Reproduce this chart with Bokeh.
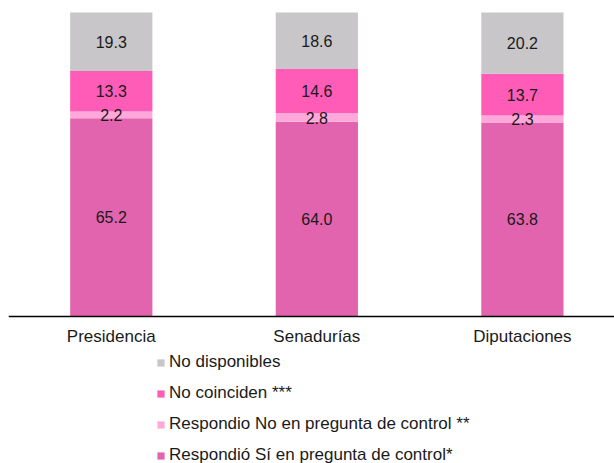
from bokeh.plotting import figure
from bokeh.models import ColumnDataSource, Range1d, FixedTicker, Legend, LegendItem, LinearAxis
from bokeh.core.properties import value
from bokeh.embed import file_html
from bokeh.resources import INLINE

categories = ["Presidencia", "Senadurías", "Diputaciones"]
resp_si = [65.2, 64.0, 63.8]
resp_no = [2.2, 2.8, 2.3]
no_coinciden = [13.3, 14.6, 13.7]
no_disponibles = [19.3, 18.6, 20.2]

series_keys = ["si", "no", "coinc", "disp"]
series_names = ["Respondió Sí en pregunta de control*",
                "Respondio No en pregunta de control **",
                "No coinciden ***",
                "No disponibles"]
colors = ["#E264AE", "#FFA8D9", "#FF5CB8", "#C8C6C8"]

FONT = "Liberation Sans"
x = list(range(len(categories)))
data = {"x": x, "si": resp_si, "no": resp_no, "coinc": no_coinciden, "disp": no_disponibles}
src = ColumnDataSource(data)

p = figure(width=614, height=463, output_backend="svg", toolbar_location=None,
           x_range=Range1d(-0.5, 2.448), y_range=Range1d(-48.5, 103.95),
           min_border_left=8, min_border_right=0, min_border_top=0, min_border_bottom=0,
           x_axis_location=None, y_axis_location=None)
p.outline_line_color = None
p.xgrid.visible = False
p.ygrid.visible = False

rends = p.vbar_stack(series_keys, x="x", width=0.4, color=colors, line_color=None, source=src)

# value labels centred in each segment
lx, ly, lt = [], [], []
for i in x:
    base = 0.0
    for arr in (resp_si, resp_no, no_coinciden, no_disponibles):
        v = arr[i]
        lx.append(i)
        ly.append(base + v / 2)
        lt.append(f"{v:.1f}")
        base += v
p.text(x=lx, y=ly, text=lt, text_align="center", text_baseline="middle",
       text_font=value(FONT), text_font_size="16px", text_color="#1a1a1a")

ax = LinearAxis(fixed_location=0)
ax.ticker = FixedTicker(ticks=x)
ax.major_label_overrides = {i: c for i, c in zip(x, categories)}
ax.major_tick_line_color = None
ax.minor_tick_line_color = None
ax.axis_line_color = "#000000"
ax.axis_line_width = 1.5
ax.major_label_text_font = FONT
ax.major_label_text_font_size = "17px"
ax.major_label_text_color = "#1a1a1a"
ax.major_label_standoff = 5
p.add_layout(ax, "below")

items = [LegendItem(label=series_names[k], renderers=[rends[k]]) for k in (3, 2, 1, 0)]
legend = Legend(items=items, location=(148, -2), orientation="vertical",
                glyph_width=9, glyph_height=9, label_standoff=4, label_height=20,
                spacing=11, padding=0, margin=0, border_line_color=None,
                background_fill_alpha=0, label_text_font=FONT,
                label_text_font_size="17px", label_text_color="#1a1a1a")
p.add_layout(legend)

open("out.html", "w").write(file_html(p, INLINE))
